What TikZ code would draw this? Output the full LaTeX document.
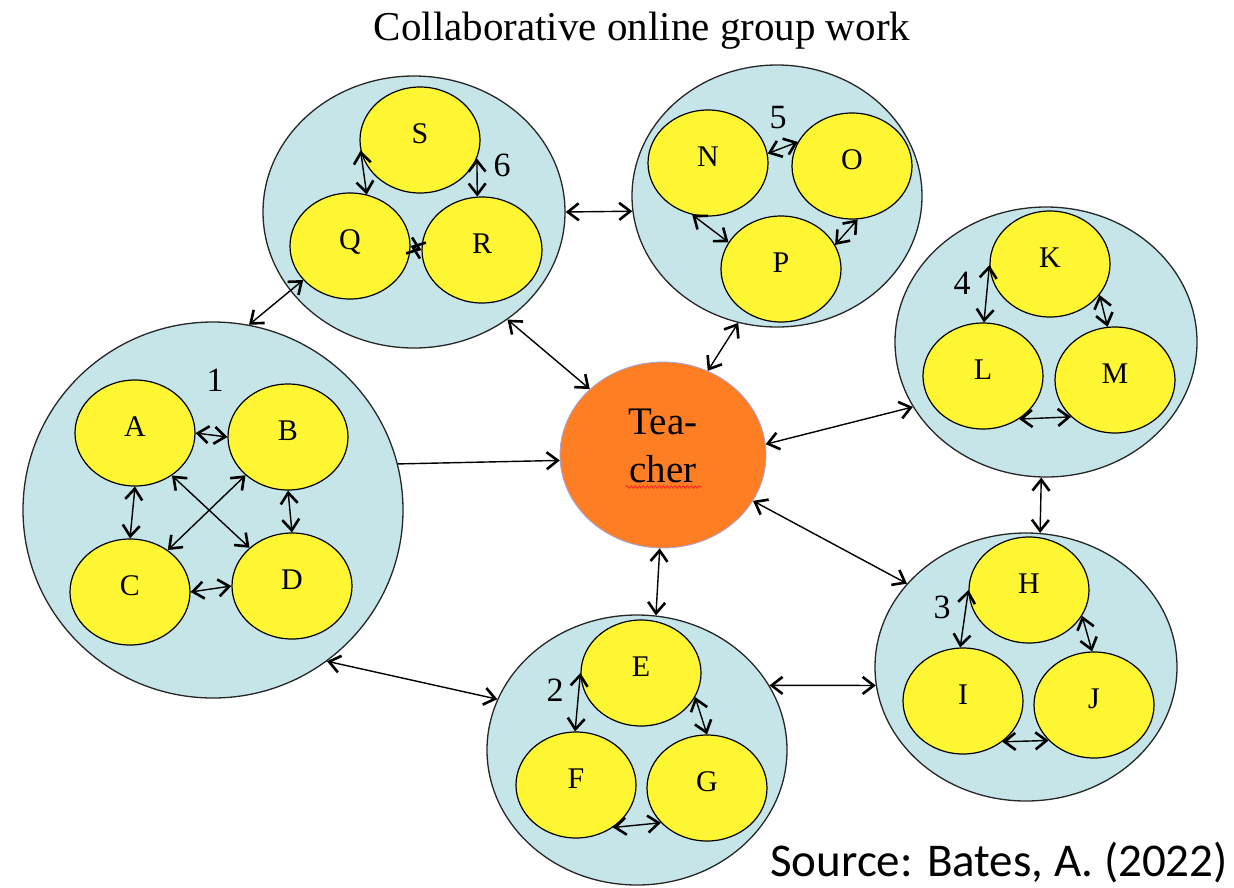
\documentclass[tikz,border=0pt]{standalone}
\usepackage{fontspec}
\setmainfont{Liberation Serif}
\newfontfamily\srcfont{Carlito}
\usepackage{tikz}
\usetikzlibrary{shapes.geometric,arrows.meta,decorations.pathmorphing}

\definecolor{groupblue}{RGB}{198,229,232}
\definecolor{memberyellow}{RGB}{255,246,51}
\definecolor{teacherorange}{RGB}{253,126,35}
\definecolor{teacherrim}{RGB}{165,165,225}

\begin{document}
\begin{tikzpicture}[x=1pt, y=-1pt,
    group/.style={ellipse, draw=black!85, line width=1.3pt, fill=groupblue, inner sep=0pt},
    member/.style={ellipse, draw=black, line width=1.2pt, fill=memberyellow, inner sep=0pt,
        minimum width=120pt, minimum height=106pt, text depth=12pt, font=\fontsize{30}{34}\selectfont},
    teacher/.style={ellipse, draw=teacherrim, line width=0.8pt, fill=teacherorange, inner sep=0pt,
        align=center, text depth=18pt, font=\fontsize{39}{48}\selectfont},
    grouplabel/.style={inner sep=0pt, font=\fontsize{34}{40}\selectfont},
    link/.style={<->, line width=1.4pt},
    >={Straight Barb[length=11pt, width=17pt, line width=2.6pt]}]
    \useasboundingbox (0,0) rectangle (1234,887);

    % groups
    \node[group, minimum width=302pt, minimum height=272pt] (G6) at (414,212) {};
    \node[group, minimum width=290pt, minimum height=262pt] (G5) at (777,196) {};
    \node[group, minimum width=380pt, minimum height=376pt] (G1) at (213,510) {};
    \node[group, minimum width=302pt, minimum height=270pt] (G4) at (1046,342) {};
    \node[group, minimum width=302pt, minimum height=268pt] (G3) at (1026,667) {};
    \node[group, minimum width=300pt, minimum height=270pt] (G2) at (637,750) {};
    \node[teacher, minimum width=206pt, minimum height=186pt] (T) at (663,455) {Tea-\\cher};
    \draw[red!85, line width=0.8pt, decorate, decoration={snake, amplitude=1.3pt, segment length=4pt}]
        ([shift={(-37,32)}]T.center) -- ([shift={(39,32)}]T.center);

    % members
    \node[member] (S) at (420,140) {S};
    \node[member] (Q) at (350,246) {Q};
    \node[member] (R) at (482,250) {R};
    \node[member] (N) at (708,163) {N};
    \node[member] (O) at (852,166) {O};
    \node[member] (P) at (781,269) {P};
    \node[member] (A) at (135,433) {A};
    \node[member] (B) at (288,437) {B};
    \node[member] (C) at (130,592) {C};
    \node[member] (D) at (292,586) {D};
    \node[member] (K) at (1050,264) {K};
    \node[member] (L) at (983,376) {L};
    \node[member] (M) at (1115,380) {M};
    \node[member] (H) at (1029,590) {H};
    \node[member] (I) at (963,701) {I};
    \node[member] (J) at (1094,705) {J};
    \node[member] (E) at (641,673) {E};
    \node[member] (F) at (576,785) {F};
    \node[member] (G) at (707,788) {G};

    % group numbers
    \node[grouplabel] (n1) at (215,380) {1};
    \node[grouplabel] (n2) at (555,690) {2};
    \node[grouplabel] (n3) at (942,607) {3};
    \node[grouplabel] (n4) at (962,283) {4};
    \node[grouplabel] (n5) at (778,118) {5};
    \node[grouplabel] (n6) at (502,165) {6};

    % links inside the groups
    \draw[link] (S.190) -- (Q.72);
    \draw[link] (S.342) -- (R.95);
    \draw[link] (Q.east) -- (R.west);
    \draw[link] (N.9) -- (O.156);
    \draw[link] (N.253) -- (P.153);
    \draw[link] (O.276) -- (P.24);
    \draw[link] (A.east) -- (B.west);
    \draw[link] (A.south) -- (C.north);
    \draw[link] (B.south) -- (D.north);
    \draw[link] (C.east) -- (D.west);
    \draw[link] (A.311) -- (D.138);
    \draw[link] (B.222) -- (C.48);
    \draw[link] (K.181) -- (L.89);
    \draw[link] (K.328) -- (M.98);
    \draw[link] (L.310) -- (M.220);
    \draw[link] (H.180) -- (I.93);
    \draw[link] (H.334) -- (J.92);
    \draw[link] (I.314) -- (J.218);
    \draw[link] (E.180) -- (F.91);
    \draw[link] (E.336) -- (G.90);
    \draw[link] (F.311) -- (G.217);

    % links between groups and teacher
    \draw[link] (G6.0) -- (G5.186);
    \draw[link] (Q.216) -- (G1.79);
    \draw[link] (G6.311) -- (T.138);
    \draw[link] (G5.253) -- (T.62);
    \draw[link, ->] (G1.14) -- (T.183);
    \draw[link] (T.6) -- (G4.206);
    \draw[link] (T.333) -- (G3.145);
    \draw[link] (T.268) -- (G2.82);
    \draw[link] (G4.268) -- (G3.84);
    \draw[link] (G2.26) -- (G3.187);
    \draw[link] (G1.307) -- (G2.160);

    % texts
    \node[anchor=base, inner sep=0pt, font=\fontsize{41}{48}\selectfont] (title) at (642,40) {Collaborative online group work};
    \node[anchor=base east, inner sep=0pt, font=\srcfont\fontsize{47}{54}\selectfont] (source) at (1228,876) {Source: Bates, A. (2022)};
\end{tikzpicture}
\end{document}
